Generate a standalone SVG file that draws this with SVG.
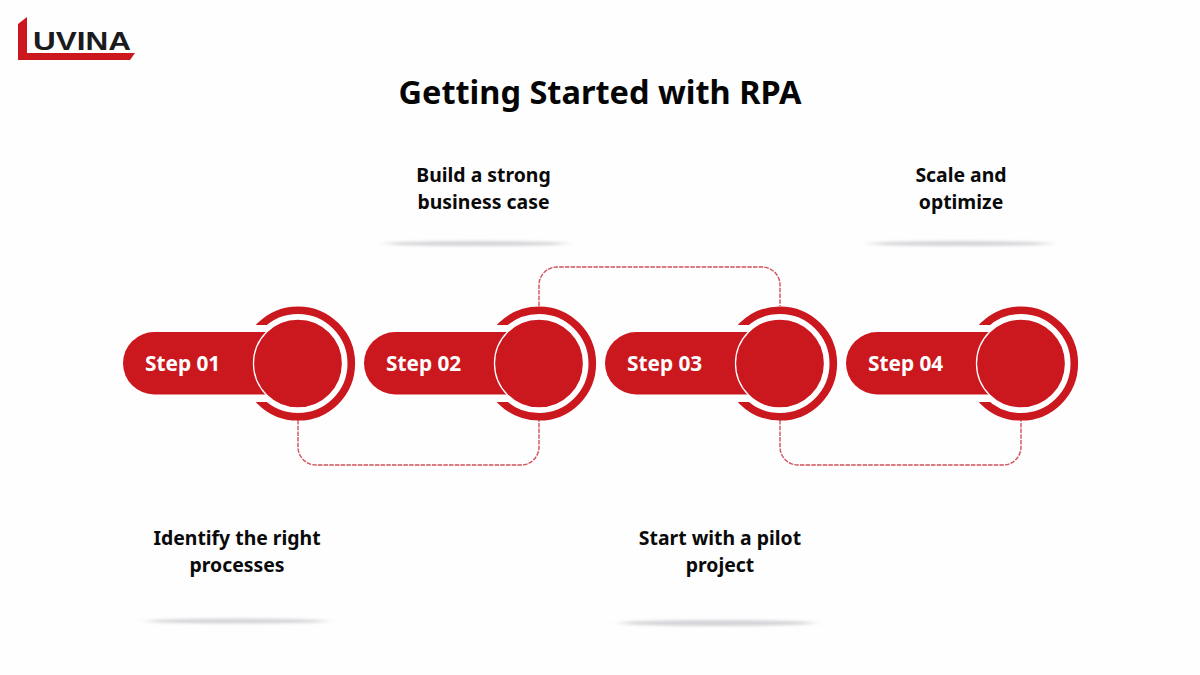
<svg xmlns="http://www.w3.org/2000/svg" width="1200" height="675" viewBox="0 0 1200 675">
<style>
.red{fill:#cb181e}
.lbl{font-family:"Noto Sans","Open Sans","Liberation Sans",sans-serif;font-weight:700;font-size:19.400px;fill:#0a0a0a;text-anchor:middle}
.step{font-family:"Noto Sans","Open Sans","Liberation Sans",sans-serif;font-weight:700;font-size:20.800px;fill:#fff}
.conn{fill:none;stroke:#d0505a;stroke-width:1.400;stroke-dasharray:4.500 1.200}
.sh{fill:#d4d4d8}
</style>
<defs>
<filter id="blur" x="-20%" y="-300%" width="140%" height="700%"><feGaussianBlur stdDeviation="7 1.6"/></filter>
<clipPath id="ringclip"><path d="M-60 -60H60V60H-60V38.500H0V-38.500H-60Z"/></clipPath>
<g id="badge">
<circle r="53.300" fill="none" stroke="#cb181e" stroke-width="7.600" clip-path="url(#ringclip)"/>
<rect x="-175" y="-31.500" width="175" height="62.500" rx="31.250" class="red"/>
<circle r="44.500" class="red" stroke="#fff" stroke-width="1.300"/>
</g>
</defs>
<rect width="1200" height="675" fill="#fefefe"/>
<g id="logo">
<path d="M18 24L27 17V53H135L130 60H18Z" fill="#cb181e"/>
<text x="33" y="50" font-family="'Liberation Sans',sans-serif" font-weight="700" font-size="26" fill="#1b1b1d" textLength="98" lengthAdjust="spacingAndGlyphs">UVINA</text>
</g>
<text id="title" x="600" y="104" font-family="'Noto Sans','Open Sans',sans-serif" font-weight="700" font-size="32.500" fill="#050505" text-anchor="middle">Getting Started with RPA</text>
<g id="connectors">
<path class="conn" d="M298 420V447a18 18 0 0 0 18 18H521a18 18 0 0 0 18-18V420"/>
<path class="conn" d="M539 306V285a18 18 0 0 1 18-18H762a18 18 0 0 1 18 18V306"/>
<path class="conn" d="M780 420V447a18 18 0 0 0 18 18H1003a18 18 0 0 0 18-18V420"/>
</g>
<g id="node-1">
<use href="#badge" x="298" y="363.500"/>
<text class="step" x="145" y="371">Step 01</text>
<ellipse class="sh" cx="237" cy="621" rx="90" ry="2.500" filter="url(#blur)"/>
<text class="lbl" x="237" y="545">Identify the right</text>
<text class="lbl" x="237" y="572">processes</text>
</g>
<g id="node-2">
<use href="#badge" x="539" y="363.500"/>
<text class="step" x="386" y="371">Step 02</text>
<ellipse class="sh" cx="476" cy="243.500" rx="90" ry="2.500" filter="url(#blur)"/>
<text class="lbl" x="483.500" y="182">Build a strong</text>
<text class="lbl" x="483.500" y="209">business case</text>
</g>
<g id="node-3">
<use href="#badge" x="780" y="363.500"/>
<text class="step" x="627" y="371">Step 03</text>
<ellipse class="sh" cx="717" cy="623" rx="96" ry="3" filter="url(#blur)"/>
<text class="lbl" x="720" y="545">Start with a pilot</text>
<text class="lbl" x="720" y="572">project</text>
</g>
<g id="node-4">
<use href="#badge" x="1021" y="363.500"/>
<text class="step" x="868" y="371">Step 04</text>
<ellipse class="sh" cx="960" cy="243.500" rx="90" ry="2.500" filter="url(#blur)"/>
<text class="lbl" x="961" y="182">Scale and</text>
<text class="lbl" x="961" y="209">optimize</text>
</g>
</svg>
